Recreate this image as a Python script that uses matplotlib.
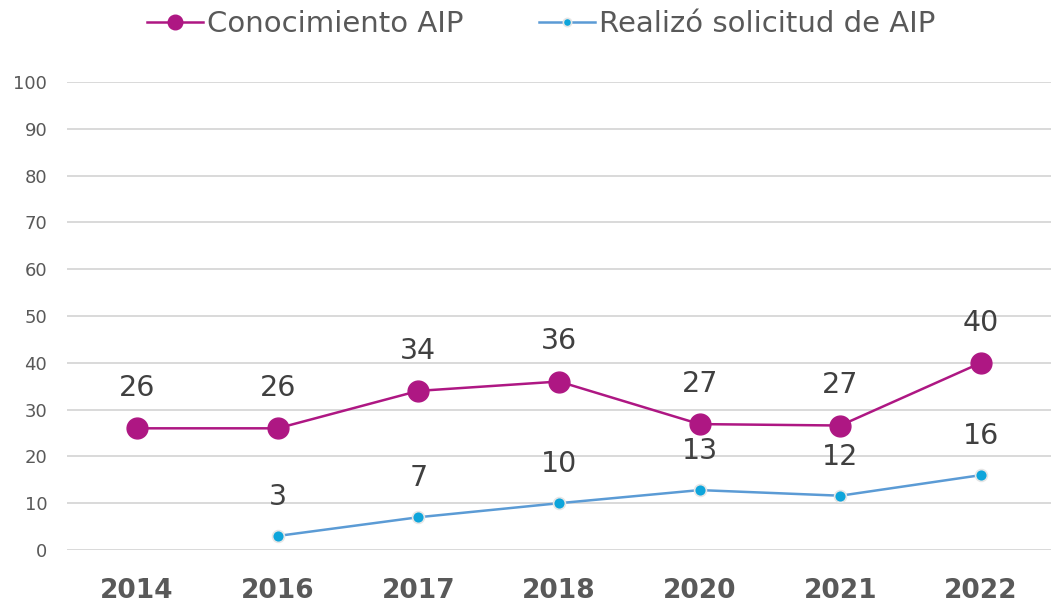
import numpy as np
import matplotlib
matplotlib.use('Agg')
import matplotlib.pyplot as plt

# ── datos ──────────────────────────────────────────────────────────────────
YEARS = ['2014', '2016', '2017', '2018', '2020', '2021', '2022']
conocimiento = [26, 26, 34, 36, 26.9, 26.6, 40]
solicitud = [np.nan, 3, 7, 10, 12.8, 11.6, 16]
LAB_CON = ['26', '26', '34', '36', '27', '27', '40']
LAB_SOL = ['', '3', '7', '10', '13', '12', '16']

C_CON = '#AE1783'
C_SOL_LINE = '#5B9BD5'
C_SOL_MK = '#0EA5DB'
TXT = '#404040'
TICK = '#595959'

plt.rcParams['font.family'] = ['DejaVu Sans']

fig = plt.figure(figsize=(10.53, 6.05), dpi=100)
ax = fig.add_axes([66.7 / 1053, 1 - 550 / 605, (1051.3 - 66.7) / 1053, (550 - 82) / 605])

x = np.arange(len(YEARS))
ax.plot(x, conocimiento, color=C_CON, lw=1.8, marker='o', ms=15,
        mfc=C_CON, mec=C_CON, label='Conocimiento AIP', zorder=3)
ax.plot(x, solicitud, color=C_SOL_LINE, lw=1.8, marker='o', ms=8.5,
        mfc=C_SOL_MK, mec='#E6E6E6', mew=1.2, label='Realizó solicitud de AIP', zorder=3)

for xi, v, s in zip(x, conocimiento, LAB_CON):
    ax.annotate(s, (xi, v), xytext=(0, 29), textcoords='offset points',
                ha='center', va='center', fontsize=20.5, color=TXT)
for xi, v, s in zip(x, solicitud, LAB_SOL):
    if s:
        ax.annotate(s, (xi, v), xytext=(0, 28), textcoords='offset points',
                    ha='center', va='center', fontsize=20.5, color=TXT)

ax.set_xlim(-0.5, len(YEARS) - 0.5)
ax.set_ylim(0, 100)
ax.set_yticks(range(0, 101, 10))
ax.set_xticks(x)
ax.set_xticklabels(YEARS, fontsize=19, fontweight='bold', color=TICK)
ax.tick_params(axis='y', labelsize=13, labelcolor=TICK, length=0, pad=14)
ax.tick_params(axis='x', length=0, pad=20)
ax.grid(axis='y', color='#D9D9D9', lw=1.4)
ax.set_axisbelow(True)
for s in ax.spines.values():
    s.set_visible(False)

fig.legend(loc='upper center', bbox_to_anchor=(0.514, 1.012), ncol=2, frameon=False,
           fontsize=21, labelcolor=TICK, handlelength=1.9, handletextpad=0.15,
           columnspacing=2.6, borderaxespad=0.2, markerscale=0.7)

fig.savefig('out.png', dpi=100)
